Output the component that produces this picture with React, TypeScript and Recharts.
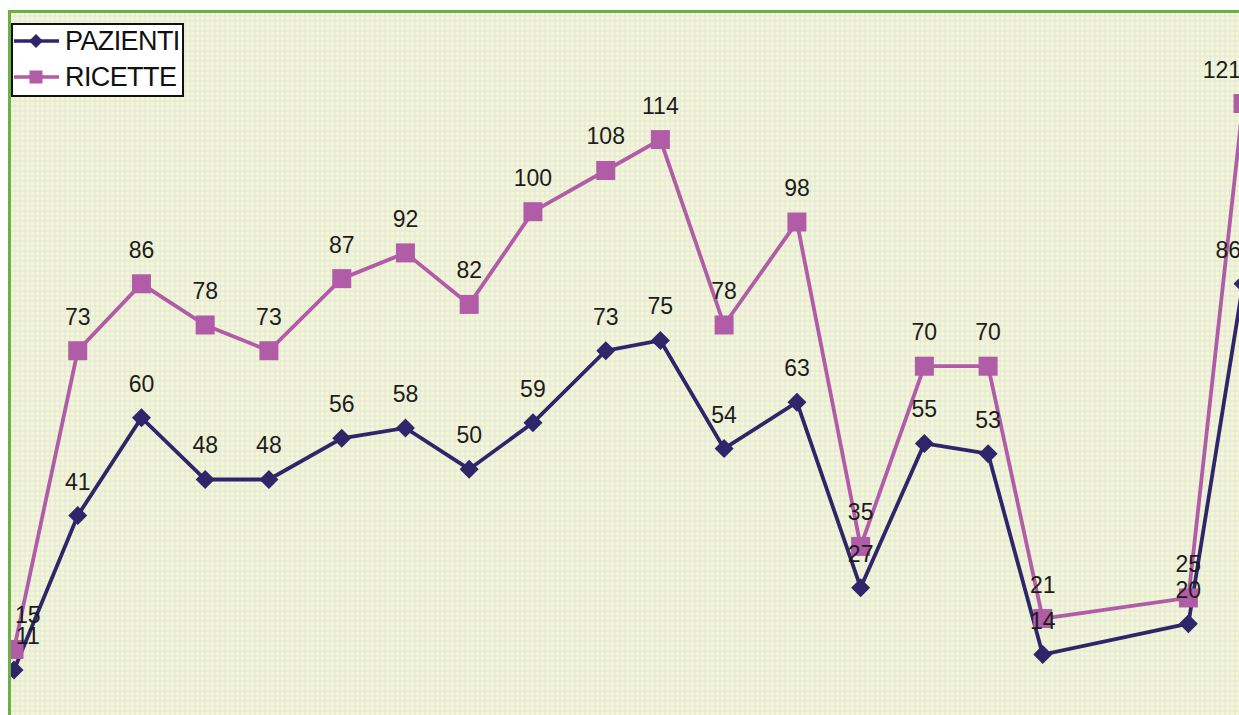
import React from 'react';
import { LineChart, Line, XAxis, YAxis, CartesianGrid, Legend, LabelList } from 'recharts';

const days = [0, 7, 14, 21, 28, 36, 43, 50, 57, 65, 71, 78, 86, 93, 100, 107, 113, 129, 135];
const pazienti = [11, 41, 60, 48, 48, 56, 58, 50, 59, 73, 75, 54, 63, 27, 55, 53, 14, 20, 86];
const ricette = [15, 73, 86, 78, 73, 87, 92, 82, 100, 108, 114, 78, 98, 35, 70, 70, 21, 25, 121];

const data = days.map((d, i) => ({ day: d, pazienti: pazienti[i], ricette: ricette[i] }));

const NAVY = '#2f2569';
const PINK = '#b05ca6';
const FONT = "'Liberation Sans', Arial, Helvetica, sans-serif";
const LABEL_SIZE = 23;
const W = 1239;
const H = 715;

const renderLabel = (props: any) => {
    const { x, y, value } = props;
    const w = String(value).length * LABEL_SIZE * 0.556;
    const cx = Math.min(Math.max(x, 15 + w / 2), W + 2 - w / 2);
    return (
        <text x={cx} y={y - 26} textAnchor="middle" fontSize={LABEL_SIZE} fill="#1c1c1c" fontFamily={FONT}>
            {value}
        </text>
    );
};

const DiamondDot = (props: any) => {
    const { cx, cy, index } = props;
    if (cx == null || cy == null) return <g key={`d-${index}`} />;
    const r = 9.5;
    return (
        <polygon
            key={`d-${index}`}
            points={`${cx},${cy - r} ${cx + r},${cy} ${cx},${cy + r} ${cx - r},${cy}`}
            fill={NAVY}
        />
    );
};

const SquareDot = (props: any) => {
    const { cx, cy, index } = props;
    if (cx == null || cy == null) return <g key={`s-${index}`} />;
    const s = 19;
    return <rect key={`s-${index}`} x={cx - s / 2} y={cy - s / 2} width={s} height={s} fill={PINK} />;
};

const legendItems = [
    { name: 'PAZIENTI', color: NAVY, shape: 'diamond' },
    { name: 'RICETTE', color: PINK, shape: 'square' },
];

const renderLegend = () => (
    <div
        style={{
            position: 'relative',
            width: 173,
            height: 74,
            boxSizing: 'border-box',
            border: '2px solid #111',
            background: '#fff',
            fontFamily: FONT,
        }}
    >
        {legendItems.map((item, i) => (
            <div key={item.name} style={{ position: 'absolute', left: 0, top: i * 36, height: 32, width: 169 }}>
                <svg width={48} height={32} style={{ position: 'absolute', left: 0, top: 0 }}>
                    <line x1={1} y1={16} x2={46} y2={16} stroke={item.color} strokeWidth={3.5} />
                    {item.shape === 'diamond' ? (
                        <polygon points="23,9 30,16 23,23 16,16" fill={item.color} />
                    ) : (
                        <rect x={16.5} y={9.5} width={13} height={13} fill={item.color} />
                    )}
                </svg>
                <span
                    style={{
                        position: 'absolute',
                        left: 52,
                        top: 0,
                        lineHeight: '32px',
                        fontSize: 27,
                        letterSpacing: -0.6,
                        color: '#111',
                        whiteSpace: 'nowrap',
                    }}
                >
                    {item.name}
                </span>
            </div>
        ))}
    </div>
);

const gridSteps = (start: number, length: number) => {
    const out: number[] = [];
    for (let p = start; p <= start + length; p += 5) out.push(p);
    return out;
};

export default function App() {
    return (
        <div style={{ position: 'absolute', left: 0, top: 0, width: W, height: H, background: '#fff', overflow: 'hidden' }}>
            <LineChart width={W} height={H} data={data} margin={{ top: 11, right: 0, bottom: 0, left: 10 }}>
                <CartesianGrid
                    fill="#f5f6d2"
                    stroke="#dfe6e0"
                    strokeWidth={1}
                    horizontalCoordinatesGenerator={({ offset }: any) => gridSteps(offset.top, offset.height)}
                    verticalCoordinatesGenerator={({ offset }: any) => gridSteps(offset.left, offset.width)}
                />
                <XAxis dataKey="day" type="number" domain={[-0.44, 134.56]} allowDataOverflow hide />
                <YAxis type="number" domain={[2.27, 138.97]} allowDataOverflow hide />
                <Legend
                    layout="vertical"
                    align="center"
                    verticalAlign="middle"
                    content={renderLegend}
                    wrapperStyle={{ left: 11, top: 23, width: 173, height: 74 }}
                />
                <Line
                    type="linear"
                    dataKey="ricette"
                    name="RICETTE"
                    stroke={PINK}
                    strokeWidth={3.8}
                    dot={SquareDot}
                    activeDot={false}
                    isAnimationActive={false}
                >
                    <LabelList dataKey="ricette" content={renderLabel} />
                </Line>
                <Line
                    type="linear"
                    dataKey="pazienti"
                    name="PAZIENTI"
                    stroke={NAVY}
                    strokeWidth={3.8}
                    dot={DiamondDot}
                    activeDot={false}
                    isAnimationActive={false}
                >
                    <LabelList dataKey="pazienti" content={renderLabel} />
                </Line>
            </LineChart>
            <div
                style={{
                    position: 'absolute',
                    left: 8,
                    top: 10,
                    width: W,
                    height: H,
                    borderLeft: '3px solid #6cb043',
                    borderTop: '3px solid #6cb043',
                    pointerEvents: 'none',
                }}
            />
        </div>
    );
}
